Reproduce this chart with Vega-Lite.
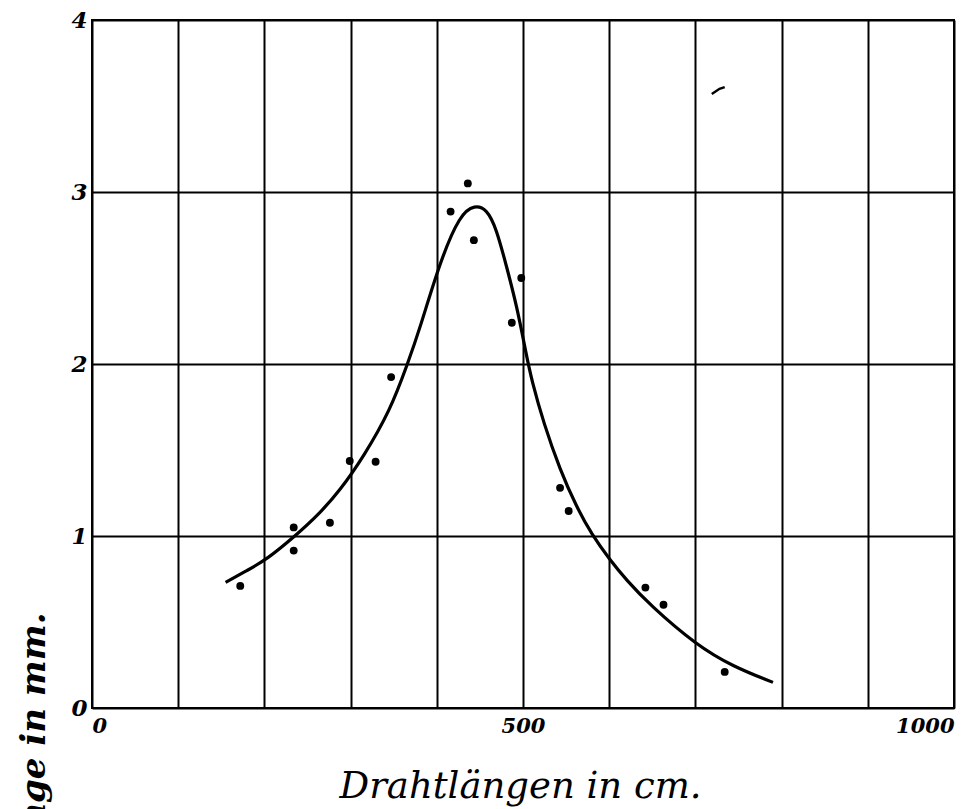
{
  "$schema": "https://vega.github.io/schema/vega-lite/v6.json",
  "width": 862,
  "height": 688,
  "autosize": {"type": "none"},
  "padding": {"left": 92, "top": 20, "right": 19, "bottom": 101},
  "background": "white",
  "config": {
    "view": {"stroke": "black", "strokeWidth": 2},
    "axis": {
      "grid": true,
      "gridColor": "black",
      "gridOpacity": 1,
      "gridWidth": 2,
      "domain": false,
      "ticks": false,
      "labelColor": "black",
      "labelFont": "DejaVu Serif",
      "labelFontStyle": "italic",
      "labelFontWeight": "bold",
      "titleColor": "black"
    }
  },
  "datasets": {
    "points": [
      {"x": 172, "y": 0.71},
      {"x": 234, "y": 1.05},
      {"x": 234, "y": 0.915},
      {"x": 276, "y": 1.077},
      {"x": 299, "y": 1.436},
      {"x": 329, "y": 1.432},
      {"x": 347, "y": 1.924},
      {"x": 416, "y": 2.886},
      {"x": 436, "y": 3.05},
      {"x": 443, "y": 2.72},
      {"x": 487, "y": 2.24},
      {"x": 498, "y": 2.5},
      {"x": 543, "y": 1.28},
      {"x": 553, "y": 1.145},
      {"x": 642, "y": 0.7},
      {"x": 663, "y": 0.6},
      {"x": 734, "y": 0.21}
    ],
    "curve": [
      {"x": 155, "y": 0.73},
      {"x": 180, "y": 0.8},
      {"x": 203, "y": 0.864},
      {"x": 237, "y": 1.006},
      {"x": 262, "y": 1.12},
      {"x": 288, "y": 1.267},
      {"x": 315, "y": 1.461},
      {"x": 346, "y": 1.73},
      {"x": 366, "y": 2.0},
      {"x": 380, "y": 2.2},
      {"x": 404, "y": 2.6},
      {"x": 427, "y": 2.87},
      {"x": 444, "y": 2.925},
      {"x": 458, "y": 2.9},
      {"x": 469, "y": 2.79},
      {"x": 481, "y": 2.565},
      {"x": 493, "y": 2.333},
      {"x": 504, "y": 2.05},
      {"x": 510, "y": 1.907},
      {"x": 524, "y": 1.655},
      {"x": 543, "y": 1.384},
      {"x": 562, "y": 1.17},
      {"x": 580, "y": 1.006},
      {"x": 601, "y": 0.86},
      {"x": 620, "y": 0.744},
      {"x": 647, "y": 0.6},
      {"x": 701, "y": 0.366},
      {"x": 744, "y": 0.24},
      {"x": 790, "y": 0.149}
    ],
    "stray": [
      {"x": 719, "y": 3.57},
      {"x": 728, "y": 3.6},
      {"x": 734, "y": 3.61}
    ]
  },
  "layer": [
    {
      "data": {"name": "curve"},
      "mark": {"type": "line", "interpolate": "basis", "stroke": "black", "strokeWidth": 3.2},
      "encoding": {
        "x": {
          "field": "x",
          "type": "quantitative",
          "scale": {"domain": [0, 1000], "nice": false},
          "axis": {
            "values": [0, 100, 200, 300, 400, 500, 600, 700, 800, 900, 1000],
            "labelExpr": "datum.value % 500 === 0 ? datum.label : ''",
            "format": "d",
            "labelFontSize": 21,
            "labelPadding": 7,
            "title": "Drahtlängen in cm.",
            "titleFont": "DejaVu Serif",
            "titleFontStyle": "italic",
            "titleFontWeight": "normal",
            "titleFontSize": 37,
            "titleBaseline": "alphabetic",
            "titleAlign": "center",
            "titleX": 428,
            "titleY": 89
          }
        },
        "y": {
          "field": "y",
          "type": "quantitative",
          "scale": {"domain": [0, 4], "nice": false},
          "axis": {
            "values": [0, 1, 2, 3, 4],
            "format": "d",
            "labelFontSize": 23,
            "labelPadding": 5,
            "title": "Funkenlänge in mm.",
            "titleFont": "DejaVu Serif",
            "titleFontStyle": "italic",
            "titleFontWeight": "bold",
            "titleFontSize": 34,
            "titleAngle": -90,
            "titleAlign": "right",
            "titleBaseline": "alphabetic",
            "titleX": -48,
            "titleY": 592
          }
        }
      }
    },
    {
      "data": {"name": "points"},
      "mark": {"type": "point", "shape": "circle", "filled": true, "color": "black", "opacity": 1, "size": 62},
      "encoding": {
        "x": {"field": "x", "type": "quantitative"},
        "y": {"field": "y", "type": "quantitative"}
      }
    },
    {
      "data": {"name": "stray"},
      "mark": {"type": "line", "stroke": "black", "strokeWidth": 2.5},
      "encoding": {
        "x": {"field": "x", "type": "quantitative"},
        "y": {"field": "y", "type": "quantitative"}
      }
    }
  ]
}
